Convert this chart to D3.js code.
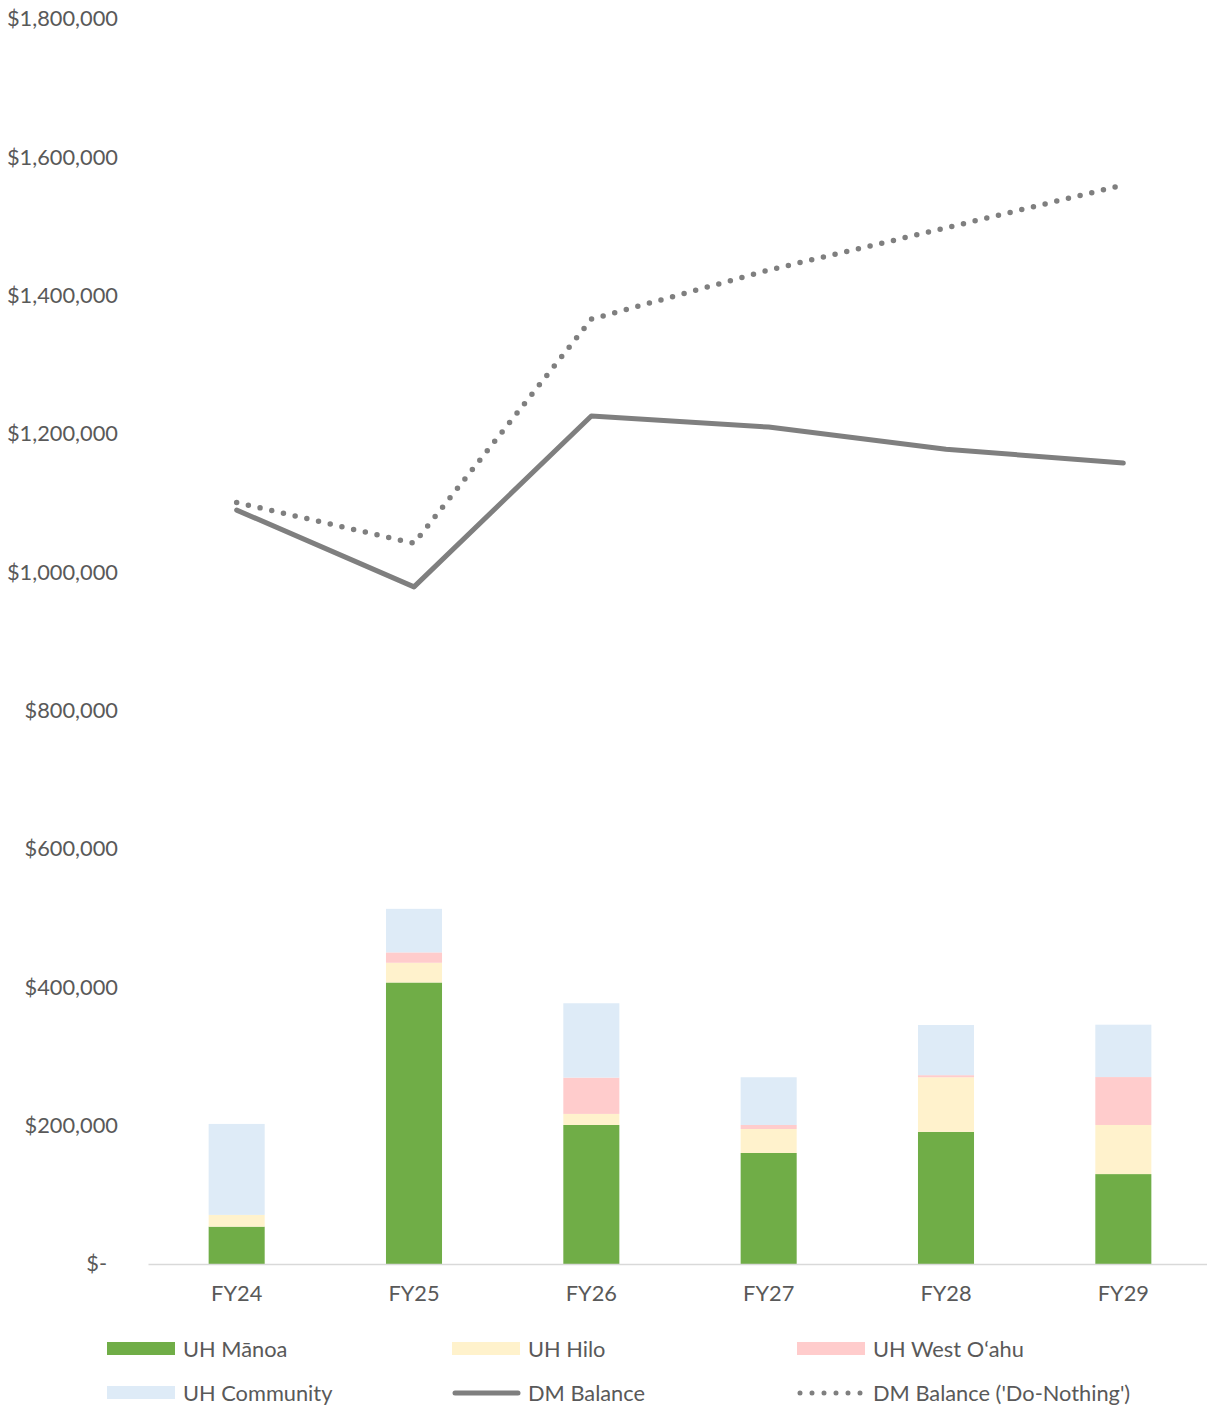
<!DOCTYPE html>
<html>
<head>
<meta charset="utf-8">
<script src="https://cdn.jsdelivr.net/npm/d3@7"></script>
<style>
  body { margin: 0; background: #fff; }
  text { font-family: Lato, "Open Sans", sans-serif; fill: #595959; }
</style>
</head>
<body>
<svg id="chart" width="1207" height="1408"></svg>
<script>
// data
var years = ["FY24", "FY25", "FY26", "FY27", "FY28", "FY29"];
var manoa = [54000, 407000, 201000, 160500, 191000, 130000];
var hilo = [17000, 28500, 16000, 34700, 79000, 71000];
var westOahu = [0, 15000, 52500, 5800, 3000, 69300];
var community = [131500, 63000, 107500, 69000, 72500, 75700];
var dmBalance = [1090000, 979000, 1226000, 1210000, 1178000, 1158000];
var doNothing = [1101000, 1042000, 1366000, 1437000, 1498000, 1560000];
var yTicks = [0, 200000, 400000, 600000, 800000, 1000000, 1200000, 1400000, 1600000, 1800000];

var seriesNames = ["UH Mānoa", "UH Hilo", "UH West Oʻahu", "UH Community"];
var seriesColors = ["#70ad47", "#fff2cc", "#ffcccc", "#deebf7"];
var lineColor = "#7f7f7f";
var fontSize = "21.8px";

var svg = d3.select("#chart"),
    margin = { top: 19, right: 0, bottom: 144, left: 148 },
    width = 1212 - margin.left,
    height = 1408 - margin.top - margin.bottom;

var x = d3.scaleBand().domain(years).range([margin.left, margin.left + width])
    .paddingInner(0.684).paddingOuter(0.342);
var y = d3.scaleLinear().domain([0, 1800000]).range([margin.top + height, margin.top]);

// stacked bars
var table = years.map(function (yr, i) {
    return { year: yr, s0: manoa[i], s1: hilo[i], s2: westOahu[i], s3: community[i] };
});
var stack = d3.stack().keys(["s0", "s1", "s2", "s3"])(table);

svg.append("g").selectAll("g").data(stack).enter()
    .append("g")
    .attr("fill", function (d, i) { return seriesColors[i]; })
    .selectAll("rect").data(function (d) { return d; }).enter()
    .append("rect")
    .attr("x", function (d) { return x(d.data.year); })
    .attr("width", x.bandwidth())
    .attr("y", function (d) { return y(d[1]); })
    .attr("height", function (d) { return y(d[0]) - y(d[1]); });

// y axis labels (no axis line)
var fmt = d3.format(",");
var yAxis = svg.append("g").attr("transform", "translate(118,0)")
    .call(d3.axisLeft(y).tickValues(yTicks).tickSize(0).tickPadding(0)
        .tickFormat(function (d) { return d === 0 ? "$-" : "$" + fmt(d); }));
yAxis.select(".domain").remove();
yAxis.selectAll("text").style("font-size", fontSize).attr("fill", "#595959")
    .attr("dx", function (d) { return d === 0 ? -11 : 0; });

// x axis
var xAxis = svg.append("g").attr("transform", "translate(0," + y(0) + ")")
    .call(d3.axisBottom(x).tickSize(0).tickPadding(22));
xAxis.select(".domain").attr("stroke", "#d9d9d9").attr("stroke-width", 1.5);
xAxis.selectAll("text").style("font-size", fontSize).attr("fill", "#595959");

// lines
var line = d3.line()
    .x(function (d, i) { return x(years[i]) + x.bandwidth() / 2; })
    .y(function (d) { return y(d); });

svg.append("path").datum(dmBalance)
    .attr("d", line).attr("fill", "none")
    .attr("stroke", lineColor).attr("stroke-width", 5)
    .attr("stroke-linecap", "round").attr("stroke-linejoin", "round");

svg.append("path").datum(doNothing)
    .attr("d", line).attr("fill", "none")
    .attr("stroke", lineColor).attr("stroke-width", 5.5)
    .attr("stroke-dasharray", "0 12")
    .attr("stroke-linecap", "round").attr("stroke-linejoin", "round");

// legend
var legendItems = [
    { name: seriesNames[0], type: "rect", color: seriesColors[0] },
    { name: seriesNames[1], type: "rect", color: seriesColors[1] },
    { name: seriesNames[2], type: "rect", color: seriesColors[2] },
    { name: seriesNames[3], type: "rect", color: seriesColors[3] },
    { name: "DM Balance", type: "line" },
    { name: "DM Balance ('Do-Nothing')", type: "dots" }
];
var colX = [107, 452, 797], rowY = [1349, 1393];

var leg = svg.append("g").selectAll("g").data(legendItems).enter()
    .append("g")
    .attr("transform", function (d, i) { return "translate(" + colX[i % 3] + "," + rowY[Math.floor(i / 3)] + ")"; });

leg.each(function (d) {
    var g = d3.select(this);
    if (d.type === "rect") {
        g.append("rect").attr("x", 0).attr("y", -7).attr("width", 68).attr("height", 13).attr("fill", d.color);
    } else if (d.type === "line") {
        g.append("line").attr("x1", 3).attr("x2", 66).attr("y1", 0).attr("y2", 0)
            .attr("stroke", lineColor).attr("stroke-width", 5).attr("stroke-linecap", "round");
    } else {
        g.append("line").attr("x1", 3).attr("x2", 66).attr("y1", 0).attr("y2", 0)
            .attr("stroke", lineColor).attr("stroke-width", 5).attr("stroke-dasharray", "0 12")
            .attr("stroke-linecap", "round");
    }
    g.append("text").attr("x", 76).attr("y", 0).attr("dy", "0.35em")
        .style("font-size", fontSize).text(d.name);
});
</script>
</body>
</html>
